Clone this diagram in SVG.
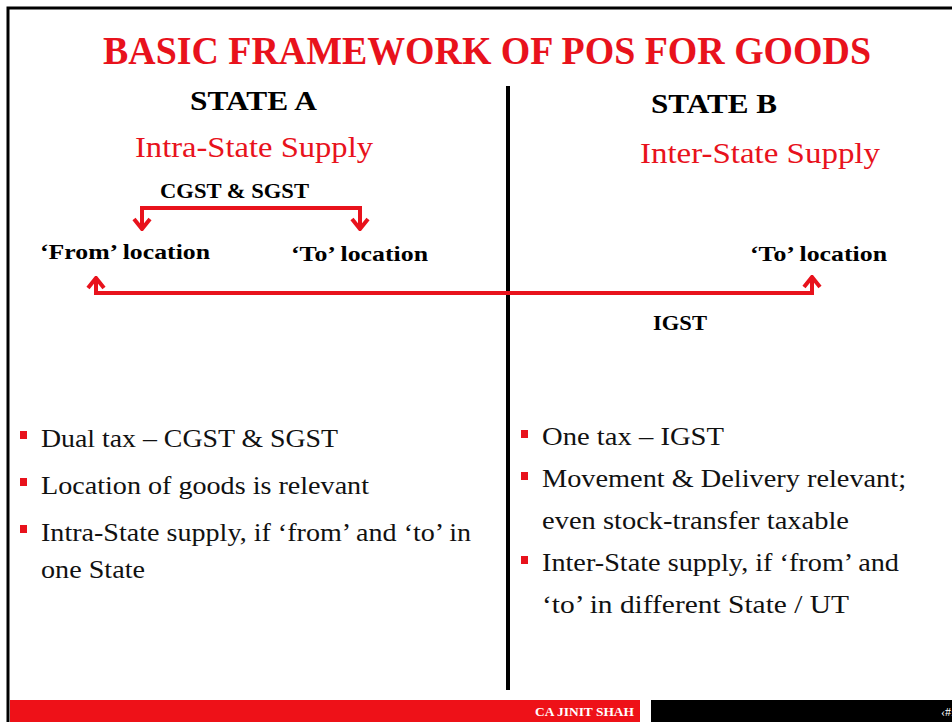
<svg xmlns="http://www.w3.org/2000/svg" width="952" height="722" viewBox="0 0 952 722" font-family="'Liberation Serif', 'DejaVu Serif', 'Times New Roman', serif">
<style>
.title{font-size:40px;font-weight:bold;fill:#e8121c}
.state{font-size:28px;font-weight:bold;fill:#000}
.sub{font-size:30px;fill:#e8121c}
.lbl{font-size:21px;font-weight:bold;fill:#000}
.bul{font-size:26px;fill:#111}
.conn{fill:none;stroke:#e8121c;stroke-width:4}
.sq{fill:#e8121c}
</style>
<defs>
<marker id="chev" viewBox="0 0 14 20" refX="12" refY="10" markerWidth="14" markerHeight="20" markerUnits="userSpaceOnUse" orient="auto-start-reverse">
<path d="M2,2 L12,10 L2,18" fill="none" stroke="#e8121c" stroke-width="4"/>
</marker>
</defs>
<rect width="952" height="722" fill="#fff"/>
<path d="M8,722 V8 H952" fill="none" stroke="#000" stroke-width="3"/>
<text class="title" x="487" y="64" text-anchor="middle" textLength="768" lengthAdjust="spacingAndGlyphs">BASIC FRAMEWORK OF POS FOR GOODS</text>
<line x1="508" y1="86" x2="508" y2="690" stroke="#000" stroke-width="4"/>
<g id="stateA">
<text class="state" x="190" y="110" textLength="127" lengthAdjust="spacingAndGlyphs">STATE A</text>
<text class="sub" x="135" y="157" textLength="238" lengthAdjust="spacingAndGlyphs">Intra-State Supply</text>
</g>
<g id="stateB">
<text class="state" x="651" y="113" textLength="126" lengthAdjust="spacingAndGlyphs">STATE B</text>
<text class="sub" x="640" y="163" textLength="240" lengthAdjust="spacingAndGlyphs">Inter-State Supply</text>
</g>
<g id="from">
<text class="lbl" x="40" y="259" textLength="170" lengthAdjust="spacingAndGlyphs">‘From’ location</text>
</g>
<g id="toA">
<text class="lbl" x="291" y="261" textLength="137" lengthAdjust="spacingAndGlyphs">‘To’ location</text>
</g>
<g id="toB">
<text class="lbl" x="750" y="261" textLength="137" lengthAdjust="spacingAndGlyphs">‘To’ location</text>
</g>
<g id="connectors">
<path class="conn" d="M142,229 V208 H360 V229" marker-start="url(#chev)" marker-end="url(#chev)"/>
<path class="conn" d="M96,278 V293 H812 V277" marker-start="url(#chev)" marker-end="url(#chev)"/>
<text class="lbl" x="160" y="198" textLength="149" lengthAdjust="spacingAndGlyphs">CGST &amp; SGST</text>
<text class="lbl" x="653" y="330" textLength="54" lengthAdjust="spacingAndGlyphs">IGST</text>
</g>
<g id="leftBullets">
<rect class="sq" x="20" y="431" width="7" height="8"/>
<text class="bul" x="41" y="447" textLength="297" lengthAdjust="spacingAndGlyphs">Dual tax – CGST &amp; SGST</text>
<rect class="sq" x="20" y="478" width="7" height="8"/>
<text class="bul" x="41" y="494" textLength="328" lengthAdjust="spacingAndGlyphs">Location of goods is relevant</text>
<rect class="sq" x="20" y="525" width="7" height="8"/>
<text class="bul" x="41" y="541" textLength="430" lengthAdjust="spacingAndGlyphs">Intra-State supply, if ‘from’ and ‘to’ in</text>
<text class="bul" x="41" y="578" textLength="104" lengthAdjust="spacingAndGlyphs">one State</text>
</g>
<g id="rightBullets">
<rect class="sq" x="521" y="430" width="7" height="8"/>
<text class="bul" x="542" y="445" textLength="182" lengthAdjust="spacingAndGlyphs">One tax – IGST</text>
<rect class="sq" x="521" y="472" width="7" height="8"/>
<text class="bul" x="542" y="487" textLength="364" lengthAdjust="spacingAndGlyphs">Movement &amp; Delivery relevant;</text>
<text class="bul" x="542" y="529" textLength="307" lengthAdjust="spacingAndGlyphs">even stock-transfer taxable</text>
<rect class="sq" x="521" y="556" width="7" height="8"/>
<text class="bul" x="542" y="571" textLength="357" lengthAdjust="spacingAndGlyphs">Inter-State supply, if ‘from’ and</text>
<text class="bul" x="542" y="613" textLength="307" lengthAdjust="spacingAndGlyphs">‘to’ in different State / UT</text>
</g>
<g id="footer">
<rect x="10" y="700" width="630" height="22" fill="#ee1118"/>
<rect x="651" y="700" width="301" height="22" fill="#000"/>
<text x="535" y="716" font-size="12" font-weight="bold" fill="#fff" textLength="99" lengthAdjust="spacingAndGlyphs">CA JINIT SHAH</text>
<text x="941" y="716" font-size="12" fill="#fff">‹#›</text>
</g>
</svg>
